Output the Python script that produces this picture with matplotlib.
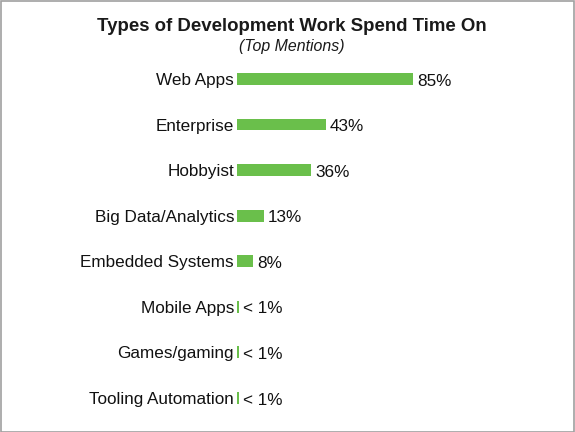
import matplotlib
matplotlib.use("Agg")
import matplotlib.pyplot as plt
from matplotlib.patches import Rectangle

categories = ["Web Apps", "Enterprise", "Hobbyist", "Big Data/Analytics",
              "Embedded Systems", "Mobile Apps", "Games/gaming", "Tooling Automation"]
values = [85, 43, 36, 13, 8, 0.9, 0.9, 0.9]
value_labels = ["85%", "43%", "36%", "13%", "8%", "< 1%", "< 1%", "< 1%"]

plt.rcParams['font.family'] = ['Liberation Sans', 'DejaVu Sans']

fig = plt.figure(figsize=(5.75, 4.32), dpi=100)
ax = fig.add_axes([0.412, 0.026, 0.36, 0.844])
y = list(range(len(categories)))
ax.barh(y, values, height=0.26, color="#6abf4b")
ax.set_ylim(len(categories) - 0.5, -0.5)
ax.set_xlim(0, 100)
ax.set_yticks(y)
ax.set_yticklabels(categories, fontsize=12.3, color="#111111")
ax.tick_params(axis='y', length=0, pad=2)
ax.set_xticks([])
for s in ax.spines.values():
    s.set_visible(False)
for yi, v, lab in zip(y, values, value_labels):
    ax.annotate(lab, (v, yi), xytext=(3, -1.5), textcoords="offset points",
                va="center", ha="left", fontsize=12.3, color="#111111")

fig.text(0.508, 0.938, "Types of Development Work Spend Time On", ha="center",
         va="center", fontsize=13.4, fontweight="bold", color="#1a1a1a")
fig.text(0.508, 0.892, "(Top Mentions)", ha="center", va="center",
         fontsize=11.4, style="italic", color="#1a1a1a")
fig.patches.append(Rectangle((0.001, 0.001), 0.997, 0.997, transform=fig.transFigure,
                             fill=False, edgecolor="#a0a0a0", linewidth=1.2))
fig.savefig("out.png", dpi=100)
